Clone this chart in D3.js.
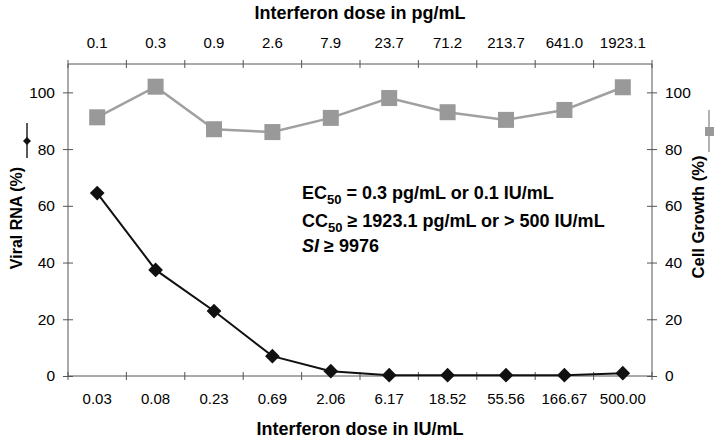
<!DOCTYPE html>
<html>
<head>
<meta charset="utf-8">
<script src="https://cdn.jsdelivr.net/npm/d3@7"></script>
<style>
  body { margin: 0; background: #fff; }
  text { font-family: "Liberation Sans", Arial, sans-serif; }
</style>
</head>
<body>
<div id="chart"></div>
<script>
// dose labels, bottom (IU/mL) and top (pg/mL)
var iuLabels = ['0.03', '0.08', '0.23', '0.69', '2.06', '6.17', '18.52', '55.56', '166.67', '500.00'];
var pgLabels = ['0.1', '0.3', '0.9', '2.6', '7.9', '23.7', '71.2', '213.7', '641.0', '1923.1'];
// series
var viralRNA = [64.5, 37.4, 22.9, 7, 1.7, 0.3, 0.3, 0.3, 0.3, 1];
var cellGrowth = [91.2, 102, 87, 86, 91, 98, 93, 90.3, 93.8, 101.8];
var yTicks = [0, 20, 40, 60, 80, 100];

var W = 720, H = 439;
var pL = 68, pR = 652, pT = 64, pB = 376;

var svg = d3.select('#chart').append('svg')
    .attr('width', W).attr('height', H);

var x = d3.scaleBand().domain(iuLabels).range([pL, pR]);
var xTop = d3.scaleBand().domain(pgLabels).range([pL, pR]);
var y = d3.scaleLinear().domain([0, 110]).range([pB, pT]);

var axisColor = '#555';

// bottom axis: labels centred, tick marks at band edges
var gB = svg.append('g').attr('transform', 'translate(0,' + pB + ')');
gB.append('line').attr('x1', pL).attr('x2', pR).attr('stroke', axisColor);
gB.selectAll('.tk').data(d3.range(11)).enter().append('line')
    .attr('x1', function(i) { return pL + i * x.step(); })
    .attr('x2', function(i) { return pL + i * x.step(); })
    .attr('y1', -4).attr('y2', 4).attr('stroke', axisColor);
gB.selectAll('.lb').data(iuLabels).enter().append('text')
    .attr('x', function(d) { return x(d) + x.bandwidth() / 2; })
    .attr('y', 28).attr('text-anchor', 'middle')
    .style('font-size', '15px').text(function(d) { return d; });

// top axis
var gT = svg.append('g').attr('transform', 'translate(0,' + pT + ')');
gT.append('line').attr('x1', pL).attr('x2', pR).attr('stroke', axisColor);
gT.selectAll('.tk').data(d3.range(11)).enter().append('line')
    .attr('x1', function(i) { return pL + i * xTop.step(); })
    .attr('x2', function(i) { return pL + i * xTop.step(); })
    .attr('y1', -4).attr('y2', 4).attr('stroke', axisColor);
gT.selectAll('.lb').data(pgLabels).enter().append('text')
    .attr('x', function(d) { return xTop(d) + xTop.bandwidth() / 2; })
    .attr('y', -16).attr('text-anchor', 'middle')
    .style('font-size', '15px').text(function(d) { return d; });

// left and right axes
var gL = svg.append('g').attr('transform', 'translate(' + pL + ',0)')
    .call(d3.axisLeft(y).tickValues(yTicks).tickSize(5).tickSizeOuter(0).tickPadding(8));
var gR = svg.append('g').attr('transform', 'translate(' + pR + ',0)')
    .call(d3.axisRight(y).tickValues(yTicks).tickSize(5).tickSizeOuter(0).tickPadding(8));
[gL, gR].forEach(function(g) {
  g.select('.domain').attr('stroke', axisColor).attr('d', 'M0,' + pT + 'V' + pB);
  g.selectAll('.tick line').attr('stroke', axisColor).attr('x1', -5).attr('x2', 5);
  g.selectAll('.tick text').style('font-size', '15.5px').attr('fill', '#000')
    .style('font-family', '"Liberation Sans", Arial, sans-serif');
});

// axis titles
svg.append('text').attr('x', (pL + pR) / 2).attr('y', 19)
    .attr('text-anchor', 'middle').style('font-size', '18px').style('font-weight', 'bold')
    .text('Interferon dose in pg/mL');
svg.append('text').attr('x', (pL + pR) / 2).attr('y', 435)
    .attr('text-anchor', 'middle').style('font-size', '18px').style('font-weight', 'bold')
    .text('Interferon dose in IU/mL');
svg.append('text').attr('transform', 'translate(22,218) rotate(-90)')
    .attr('text-anchor', 'middle').style('font-size', '16px').style('font-weight', 'bold')
    .text('Viral RNA (%)');
svg.append('text').attr('transform', 'translate(704,217) rotate(-90)')
    .attr('text-anchor', 'middle').style('font-size', '16.5px').style('font-weight', 'bold')
    .text('Cell Growth (%)');

// legend keys beside axis titles
svg.append('line').attr('x1', 27).attr('x2', 27).attr('y1', 123).attr('y2', 158)
    .attr('stroke', '#222').attr('stroke-width', 1.5);
svg.append('path').attr('d', d3.symbol(d3.symbolSquare, 32)())
    .attr('transform', 'translate(27,141) rotate(45)').attr('fill', '#111');
svg.append('line').attr('x1', 709).attr('x2', 709).attr('y1', 110).attr('y2', 152)
    .attr('stroke', '#999').attr('stroke-width', 1.5);
svg.append('rect').attr('x', 705).attr('y', 127).attr('width', 9).attr('height', 9)
    .attr('fill', '#999');

// series
var cx = function(d, i) { return x(iuLabels[i]) + x.bandwidth() / 2; };
var line = d3.line().x(cx).y(function(d) { return y(d); });

svg.append('path').datum(cellGrowth).attr('d', line)
    .attr('fill', 'none').attr('stroke', '#a0a0a0').attr('stroke-width', 2.5);
svg.selectAll('.sq').data(cellGrowth).enter().append('rect')
    .attr('x', function(d, i) { return cx(d, i) - 8; })
    .attr('y', function(d) { return y(d) - 8; })
    .attr('width', 16).attr('height', 16).attr('fill', '#999');

svg.append('path').datum(viralRNA).attr('d', line)
    .attr('fill', 'none').attr('stroke', '#111').attr('stroke-width', 2);
svg.selectAll('.dm').data(viralRNA).enter().append('path')
    .attr('d', d3.symbol(d3.symbolSquare, 108)())
    .attr('transform', function(d, i) { return 'translate(' + cx(d, i) + ',' + y(d) + ') rotate(45)'; })
    .attr('fill', '#111');

// annotation
var note = svg.append('g').style('font-size', '18px').style('font-weight', 'bold');
var t1 = note.append('text').attr('x', 302).attr('y', 199);
t1.append('tspan').text('EC');
t1.append('tspan').attr('dy', 5).style('font-size', '13px').text('50');
t1.append('tspan').attr('dy', -5).text(' = 0.3 pg/mL or 0.1 IU/mL');
var t2 = note.append('text').attr('x', 302).attr('y', 227);
t2.append('tspan').text('CC');
t2.append('tspan').attr('dy', 5).style('font-size', '13px').text('50');
t2.append('tspan').attr('dy', -5).text(' \u2265 1923.1 pg/mL or > 500 IU/mL');
var t3 = note.append('text').attr('x', 302).attr('y', 252);
t3.append('tspan').style('font-style', 'italic').text('SI');
t3.append('tspan').text(' \u2265 9976');
</script>
</body>
</html>
